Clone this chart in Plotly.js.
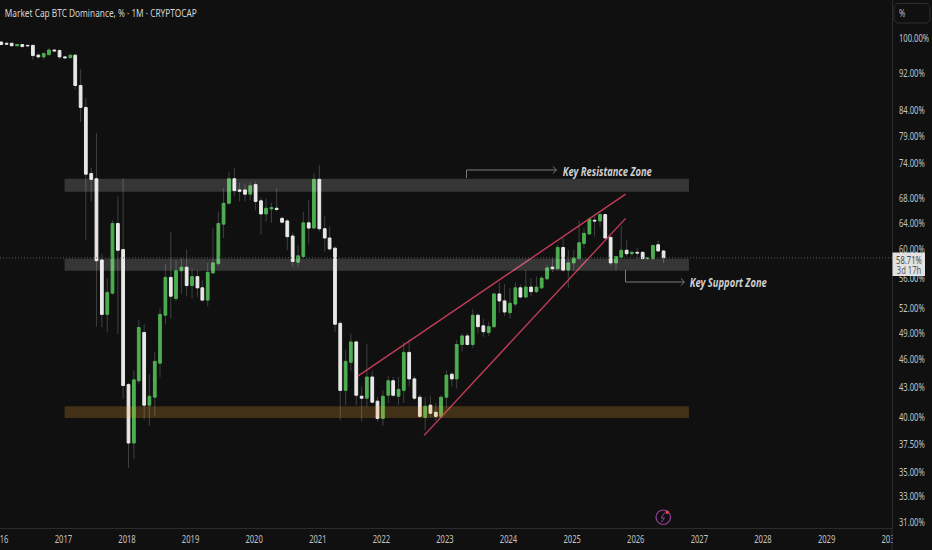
<!DOCTYPE html>
<html><head><meta charset="utf-8">
<script src="https://cdn.plot.ly/plotly-3.0.1.min.js"></script>
<style>html,body{margin:0;padding:0;background:#101010;overflow:hidden}</style>
</head><body><div id="chart" style="width:932px;height:550px"></div>
<script>
const firstYear = 2016;
const openVals = [99.0,98.7,98.7,98.1,98.4,98.2,98.2,95.9,95.5,96.0,97.1,97.0,95.5,95.3,95.9,89.1,84.5,72.0,71.1,58.4,51.2,53.9,63.8,59.9,43.2,37.5,43.6,49.0,41.1,41.9,45.5,51.1,56.0,53.2,56.9,57.4,54.9,56.1,54.6,53.0,56.6,57.9,63.7,67.0,71.1,69.2,69.2,68.5,70.1,67.4,65.3,66.1,66.2,64.6,64.2,61.9,58.1,58.9,63.9,63.1,71.0,63.0,61.6,60.1,50.1,42.6,45.6,47.9,42.0,41.8,44.0,41.5,39.8,42.1,43.6,42.0,42.6,46.7,43.8,41.9,39.9,41.1,40.4,40.0,41.9,44.3,43.8,47.6,48.6,47.6,51.1,49.8,49.0,49.7,53.8,52.9,51.4,52.5,54.6,53.4,54.7,54.1,54.6,55.8,57.4,57.2,60.2,57.0,58.0,58.6,60.8,62.2,64.3,64.2,65.2,61.7,58.0,58.8,59.8,59.3,59.5,59.5,58.6,58.6,60.6,59.7];
const highVals = [99.1,98.8,98.8,98.5,98.5,98.3,98.3,96.4,96.4,97.5,97.2,97.1,95.6,96.0,96.0,92.7,86.5,73.0,79.4,59.3,55.9,64.3,68.1,71.2,43.4,44.7,50.5,50.0,44.3,46.7,52.0,57.8,62.5,58.4,58.7,59.9,57.3,57.0,55.6,58.0,63.1,65.7,69.5,72.3,73.0,70.4,70.3,70.4,70.6,67.9,67.8,67.1,69.5,64.9,64.5,62.4,60.6,65.6,67.5,72.1,73.5,64.9,63.4,60.4,50.4,47.0,48.9,48.1,43.0,47.7,44.6,41.9,42.6,44.1,44.0,44.0,47.9,48.2,44.1,42.2,41.9,42.0,41.3,42.1,44.7,44.5,48.1,48.9,48.9,51.9,51.3,50.7,50.3,54.0,55.3,55.1,54.6,55.3,55.0,57.0,55.9,56.1,56.2,57.7,58.7,60.6,61.6,59.8,59.8,64.3,63.1,64.7,64.9,65.5,65.3,61.8,59.0,63.4,61.3,59.7,60.1,59.7,58.8,60.6,61.2,59.8];
const lowVals = [98.3,98.4,98.0,98.0,97.8,98.0,94.8,95.0,95.0,95.9,96.8,95.0,95.0,95.2,88.2,81.6,61.3,67.3,49.7,49.6,49.0,53.7,48.8,41.7,35.3,36.1,43.3,39.7,39.1,40.0,44.0,50.0,50.7,52.9,53.8,53.5,53.2,53.4,52.8,52.2,56.5,57.6,61.6,66.7,68.2,67.3,67.3,67.5,65.9,62.1,64.1,63.9,65.7,63.8,59.8,57.5,57.3,58.7,60.8,63.0,62.6,59.6,59.7,49.1,39.6,41.1,44.6,41.1,39.5,40.9,41.3,39.5,39.1,41.3,41.9,41.1,41.3,43.0,41.6,39.8,38.7,39.9,39.6,39.8,40.9,43.0,42.8,46.8,47.5,47.2,48.9,48.5,48.6,49.5,51.4,51.0,50.7,52.2,53.2,53.2,53.5,53.9,54.4,55.6,56.7,57.0,56.7,54.6,56.8,58.4,60.1,62.1,61.8,63.3,61.4,57.6,56.9,58.6,58.9,58.9,58.5,58.5,58.4,58.5,59.6,58.0];
const closeVals = [98.4,98.5,98.1,98.4,97.9,98.1,95.8,95.5,96.3,97.1,96.9,95.5,95.3,95.9,89.1,84.5,71.9,71.0,58.3,51.2,54.0,63.8,59.8,43.1,37.5,43.7,49.6,41.1,42.0,45.7,51.2,56.0,53.5,56.9,57.4,54.9,56.1,54.6,53.0,56.7,58.0,63.8,67.0,71.1,69.1,69.0,68.5,69.9,67.3,65.3,66.2,66.3,66.0,64.0,61.8,58.2,59.0,63.9,63.1,71.0,63.0,61.6,60.0,50.0,42.6,45.7,47.9,42.1,41.8,44.0,41.4,39.8,42.0,43.6,42.1,42.7,46.7,43.8,41.8,40.0,41.0,40.3,40.0,41.9,44.2,43.8,47.6,48.6,47.6,51.1,49.7,49.1,49.7,53.8,52.9,51.5,52.6,54.6,53.4,54.7,54.1,54.7,55.9,57.3,57.2,60.2,57.0,58.0,58.7,60.9,62.3,64.5,64.2,65.2,61.6,58.0,58.9,59.8,59.3,59.5,59.4,58.6,58.7,60.5,59.7,58.71];
const yTickVals = [100,92,84,79,74,68,64,60,56,52,49,46,43,40,37.5,35,33,31];
const yearTicks = [2016,2017,2018,2019,2020,2021,2022,2023,2024,2025,2026,2027,2028,2029,2030];
const upperLineX = ['2021-08-10','2025-10-26'], upperLineY = [44.1,68.5];
const lowerLineX = ['2022-08-26','2025-10-26'], lowerLineY = [38.2,64.6];
const resistanceZone = [68.9,71.1], supportZone = [56.9,58.6], demandZone = [39.85,41.0];
const zoneStart = '2016-12-30', zoneEnd = '2026-10-25';
const lastPrice = 58.71;

const dates = openVals.map((_, i) => {
  const y = firstYear + Math.floor(i / 12), m = i % 12 + 1;
  return y + '-' + String(m).padStart(2, '0') + '-01';
});
const BG = '#101010', W = 892, H = 528;
const FONT = '"Noto Sans",sans-serif';
const px = x => x / W, py = y => 1 - y / H;
const path = pts => pts.map((p, i) => (i ? 'L' : 'M') + px(p[0]).toFixed(5) + ' ' + py(p[1]).toFixed(5)).join(' ');
const paperLine = (pts, color, width) => ({type:'path', xref:'paper', yref:'paper', layer:'above', path:path(pts), line:{color:color, width:width}});
const zone = (r, fill) => ({type:'rect', xref:'x', yref:'y', layer:'above', x0:zoneStart, x1:zoneEnd, y0:r[0], y1:r[1], fillcolor:fill, line:{width:0}});

const mid = openVals.map((o,i)=>(o+closeVals[i])/2);
const wicks = {type:'candlestick', x:dates, open:mid, close:mid, high:highVals, low:lowVals, whiskerwidth:0, hoverinfo:'skip', showlegend:false,
  increasing:{line:{color:'#404040',width:1},fillcolor:'#404040'}, decreasing:{line:{color:'#404040',width:1},fillcolor:'#404040'}};
const bodies = {type:'candlestick', x:dates, open:openVals, close:closeVals,
  high:openVals.map((o,i)=>Math.max(o,closeVals[i])), low:openVals.map((o,i)=>Math.min(o,closeVals[i])), whiskerwidth:0, showlegend:false,
  increasing:{line:{color:'#4caf50',width:1},fillcolor:'#4caf50'}, decreasing:{line:{color:'#e8e8e8',width:1},fillcolor:'#e8e8e8'}};
const trend = (x,y) => ({type:'scatter', mode:'lines', x:x, y:y, line:{color:'#c23c58',width:1.4}, hoverinfo:'skip', showlegend:false});

const labelFont = {family:FONT, size:10, color:'#c4c4c4'};
const note = (text, x, y, size, color) => ({xref:'paper', yref:'paper', x:px(x), y:py(y), xanchor:'center', yanchor:'middle', showarrow:false, text:text, font:{family:FONT, size:size, color:color}});
const layout = {
  width:932, height:550, paper_bgcolor:BG, plot_bgcolor:BG, showlegend:false,
  margin:{l:0, r:40, t:0, b:22, pad:0}, boxgap:0.25, boxgroupgap:0.25,
  title:{text:'Market Cap BTC Dominance, % · 1M · CRYPTOCAP', x:5/932, xref:'paper', xanchor:'left', y:1-13/550, yanchor:'middle', font:{family:FONT, size:10.5, color:'#d4d4d4'}},
  xaxis:{type:'date', range:['2015-12-25','2030-01-03'], tickmode:'array', tickvals:yearTicks.map(y=>y+'-01-01'), ticktext:yearTicks.map(String), ticklabeloverflow:'allow',
    showgrid:false, zeroline:false, showline:true, linecolor:'#2c2c2c', linewidth:1, ticks:'outside', ticklen:2, tickcolor:BG, tickfont:labelFont, rangeslider:{visible:false}, automargin:false},
  yaxis:{type:'log', side:'right', range:[1.4847,2.0398], tickmode:'array', tickvals:yTickVals, ticktext:yTickVals.map(v=>v.toFixed(2)+'%'), ticklabeloverflow:'allow',
    showgrid:false, zeroline:false, showline:true, linecolor:'#2c2c2c', linewidth:1, ticks:'outside', ticklen:4, tickcolor:BG, tickfont:labelFont, automargin:false},
  shapes:[
    zone(resistanceZone,'rgba(255,255,255,0.16)'),
    zone(supportZone,'rgba(255,255,255,0.16)'),
    zone(demandZone,'rgba(255,170,50,0.21)'),
    {type:'line', xref:'paper', yref:'y', layer:'above', x0:0, x1:1, y0:lastPrice, y1:lastPrice, line:{color:'#5c5c5c', width:1, dash:'1px,2px'}},
    {type:'rect', xref:'paper', yref:'paper', layer:'above', x0:px(893), x1:px(932), y0:py(529), y1:py(550), fillcolor:BG, line:{width:0}},
    paperLine([[892,528],[892,550]],'#2c2c2c',1),
    paperLine([[466.5,178],[466.5,170],[556,170]],'#7c7c7c',1),
    paperLine([[553,166.5],[556.5,170],[553,173.5]],'#7c7c7c',1),
    paperLine([[625.5,270],[625.5,282],[684,282]],'#7c7c7c',1),
    paperLine([[681,278.5],[684.5,282],[681,285.5]],'#7c7c7c',1),
    paperLine([[897,3.5],[927,3.5],[930,6.5],[930,20],[927,23],[897,23],[894,20],[894,6.5],[897,3.5]],'#303030',1),
    {type:'circle', xref:'paper', yref:'paper', layer:'above', x0:px(656), x1:px(670.5), y0:py(524.5), y1:py(510), line:{color:'#96409c',width:1.2}},
    paperLine([[665,512.5],[661,518],[664.5,518],[661,522.5]],'#96409c',1),
    {type:'circle', xref:'paper', yref:'paper', layer:'above', x0:px(665.5), x1:px(669), y0:py(514), y1:py(510.5), fillcolor:'#e8405a', line:{width:0}},
    {type:'rect', xref:'paper', yref:'paper', layer:'above', x0:px(892.5), x1:px(925), y0:py(276), y1:py(252.5), fillcolor:'#e2e2e2', line:{width:0}}
  ],
  annotations:[
    note('<b><i>Key Resistance Zone</i></b>', 607.5, 171.5, 12, '#cfcfcf'),
    note('<b><i>Key Support Zone</i></b>', 728.5, 282, 12, '#cfcfcf'),
    note('%', 902, 13, 10, '#bdbdbd'),
    note('58.71%', 909, 259.5, 10, '#4a4a4a'),
    note('3d 17h', 909, 269.5, 10, '#5a5a5a')
  ]
};
const targetWidths = {'Key Resistance Zone':89, 'Key Support Zone':77, 'Market Cap BTC Dominance, % · 1M · CRYPTOCAP':192};
Plotly.newPlot('chart',[wicks,bodies,trend(upperLineX,upperLineY),trend(lowerLineX,lowerLineY)],layout,{displayModeBar:false,staticPlot:true}).then(gd=>{
  gd.querySelectorAll('.xtick text,.ytick text,.annotation-text,.gtitle').forEach(t=>{
    const w = t.getComputedTextLength();
    const target = targetWidths[t.textContent] || w*0.76;
    t.setAttribute('textLength', target.toFixed(1));
    t.setAttribute('lengthAdjust','spacingAndGlyphs');
  });
  gd.querySelectorAll('.xtick text').forEach(t=>t.setAttribute('dx','-1.5'));
  gd.querySelectorAll('.ytick text').forEach(t=>t.setAttribute('dy','1'));
});
</script></body></html>
